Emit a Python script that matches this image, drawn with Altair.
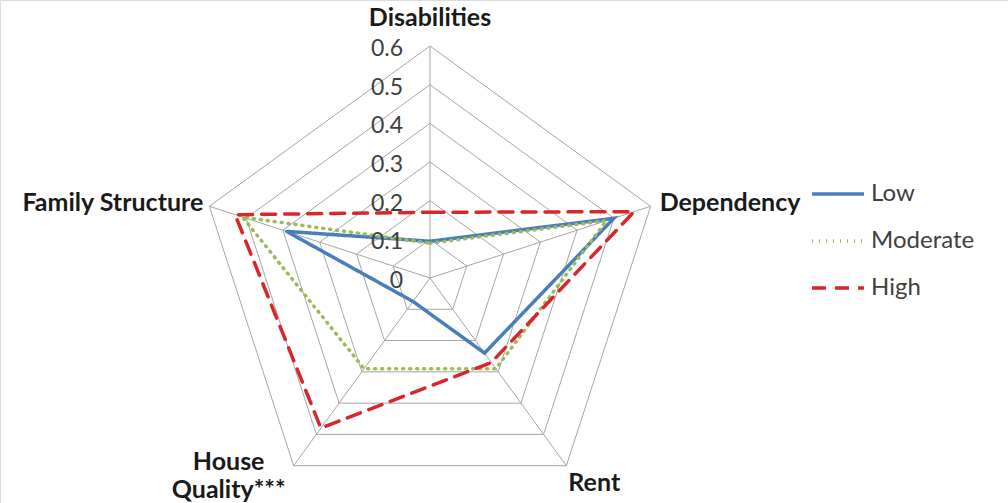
import math
import altair as alt
import pandas as pd

# ---- data ----
axes = ["Disabilities", "Dependency", "Rent", "House Quality***", "Family Structure"]
series = ["Low", "Moderate", "High"]
low = [0.095, 0.50, 0.24, 0.075, 0.39]
moderate = [0.09, 0.48, 0.29, 0.29, 0.51]
high = [0.17, 0.555, 0.27, 0.48, 0.53]
ticks = [0, 0.1, 0.2, 0.3, 0.4, 0.5, 0.6]
tick_labels = ["0", "0.1", "0.2", "0.3", "0.4", "0.5", "0.6"]

colors = ["#4a7ebb", "#9bbb59", "#d9262b"]
dashes = [[1, 0], [1, 6], [14, 9]]

# ---- geometry (data space) ----
n = len(axes)
ang = [2 * math.pi * i / n for i in range(n)]  # clockwise from top
W, H = 1008, 503
cx, cy, R = 430, 278, 232
unit = R / 0.6
xdom = [-cx / unit, (W - cx) / unit]
ydom = [-(H - cy) / unit, cy / unit]

def pt(v, i):
    return v * math.sin(ang[i]), v * math.cos(ang[i])

rows = []
for s, vals in zip(series, [low, moderate, high]):
    for k in range(n + 1):
        i = k % n
        x, y = pt(vals[i], i)
        rows.append({"series": s, "order": k, "x": x, "y": y})
df = pd.DataFrame(rows)

grid = []
for t in ticks[1:]:
    for k in range(n + 1):
        i = k % n
        x, y = pt(t, i)
        grid.append({"ring": t, "order": k, "x": x, "y": y})
gdf = pd.DataFrame(grid)

spokes = pd.DataFrame([{"x": 0, "y": 0, "x2": pt(0.6, i)[0], "y2": pt(0.6, i)[1]} for i in range(n)])

tdf = pd.DataFrame({"x": [0] * len(ticks), "y": ticks, "label": tick_labels})

adf = pd.DataFrame([{"axis": a, "x": pt(0.6, i)[0], "y": pt(0.6, i)[1],
                     "label": a.replace("House ", "House\n")} for i, a in enumerate(axes)])

X = lambda f="x": alt.X(f"{f}:Q", scale=alt.Scale(domain=xdom, nice=False, zero=False), axis=None)
Y = lambda f="y": alt.Y(f"{f}:Q", scale=alt.Scale(domain=ydom, nice=False, zero=False), axis=None)

font = "Lato"
FS = 23
AFS = 25

gray = "#a6a6a6"
rings = alt.Chart(gdf).mark_line(color=gray, strokeWidth=1).encode(
    x=X(), y=Y(), detail="ring:N", order="order:Q")
spk = alt.Chart(spokes).mark_rule(color=gray, strokeWidth=1).encode(
    x=X(), y=Y(), x2="x2:Q", y2="y2:Q")

lines = alt.Chart(df).mark_line(strokeWidth=3.5, strokeCap="round").encode(
    x=X(), y=Y(), order="order:Q",
    color=alt.Color("series:N", scale=alt.Scale(domain=series, range=colors),
                    legend=alt.Legend(title=None, orient="none", legendX=810, legendY=166,
                                      symbolType="stroke", symbolSize=2700,
                                      symbolStrokeWidth=3.5, labelFontSize=24,
                                      labelFont=font, labelColor="#404040",
                                      rowPadding=7, labelOffset=5)),
    strokeDash=alt.StrokeDash("series:N", scale=alt.Scale(domain=series, range=dashes), legend=alt.Legend(title=None)),
)

tick_text = alt.Chart(tdf).mark_text(align="right", dx=-27, dy=3, fontSize=FS, font=font,
                                     color="#404040").encode(x=X(), y=Y(), text="label:N")

def axlabel(name, **kw):
    return alt.Chart(adf[adf.axis == name]).mark_text(fontSize=AFS, fontWeight="bold", font=font,
                                                      color="#1a1a1a", lineBreak="\n", **kw).encode(
        x=X(), y=Y(), text="label:N")

labels = [
    axlabel("Disabilities", align="center", dy=-28),
    axlabel("Dependency", align="left", dx=9, dy=-3),
    axlabel("Rent", align="left", dx=2, dy=17),
    axlabel("House Quality***", align="center", dx=-65, dy=-4, lineHeight=28),
    axlabel("Family Structure", align="right", dx=-6, dy=-3),
]

chart = alt.layer(rings, spk, lines, tick_text, *labels).properties(
    width=W, height=H, autosize=alt.AutoSizeParams(type="none"), padding=0
).configure_view(stroke=None).configure(background="white")

chart.save("out.html", embed_options={"renderer": "svg", "actions": False})
